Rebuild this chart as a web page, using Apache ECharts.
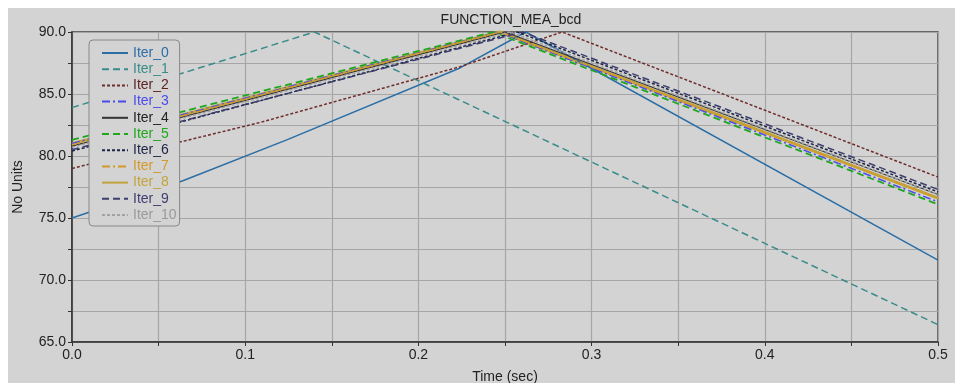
<!DOCTYPE html>
<html>
<head>
<meta charset="utf-8">
<script src="https://cdn.jsdelivr.net/npm/echarts@6/dist/echarts.min.js"></script>
<style>
  html, body { margin: 0; padding: 0; background: #ffffff; overflow: hidden; }
  #chart { position: absolute; left: 8px; top: 8px; width: 947px; height: 375px; background: #d3d3d3; }
</style>
</head>
<body>
<div id="chart"></div>
<script>
// time points (sec) and values, one row per iteration
const names = ['Iter_0', 'Iter_1', 'Iter_2', 'Iter_3', 'Iter_4', 'Iter_5', 'Iter_6', 'Iter_7', 'Iter_8', 'Iter_9', 'Iter_10']
const times = [
  [0, 0.064, 0.124, 0.224, 0.262, 0.5],
  [0, 0.140, 0.5],
  [0, 0.1085, 0.224, 0.283, 0.5],
  [0, 0.246, 0.5],
  [0, 0.250, 0.5],
  [0, 0.243, 0.5],
  [0, 0.257, 0.5],
  [0, 0.247, 0.5],
  [0, 0.247, 0.5],
  [0, 0.260, 0.5],
  [0, 0.253, 0.5]
]
const values = [
  [75.0, 78.0, 81.3, 87.1, 90.0, 71.6],
  [83.9, 90.0, 66.4],
  [79.0, 82.7, 87.2, 90.0, 78.3],
  [81.0, 90.0, 76.3],
  [80.8, 90.0, 76.9],
  [81.3, 90.0, 76.1],
  [80.4, 90.0, 77.1],
  [80.9, 90.0, 76.6],
  [81.0, 90.0, 76.6],
  [80.5, 90.0, 77.3],
  [80.7, 90.0, 76.9]
]
const xTicks = [0.0, 0.1, 0.2, 0.3, 0.4, 0.5]

const colors = ['#2b6ea6', '#3a8c8a', '#6e2c2c', '#4b4bec', '#333333', '#1ea81e', '#1b2444', '#d49a2a', '#c2a43c', '#3e3e6e', '#a2a2a2']
const textColors = ['#2b6ea6', '#3a8c8a', '#5e2424', '#4b4bec', '#222222', '#1ea81e', '#1b2444', '#d49a2a', '#c2a43c', '#3e3e6e', '#9a9a9a']
const dashes = ['solid', [7, 4], [3, 2], [8, 3, 2, 3], 'solid', [7, 4], [3, 2], [8, 3, 2, 3], 'solid', [7, 4], [3, 2]]
const widths = [1.5, 1.5, 1.5, 1.5, 1.2, 1.8, 1.5, 1.5, 3, 1.5, 1.5]

const chart = echarts.init(document.getElementById('chart'))

const series = names.map((n, i) => ({
  name: n,
  type: 'line',
  symbol: 'none',
  z: i === 8 ? 2 : 3,
  lineStyle: { color: colors[i], type: dashes[i], width: widths[i] },
  itemStyle: { color: colors[i] },
  data: times[i].map((t, k) => [t, values[i][k]])
}))

const option = {
  animation: false,
  backgroundColor: '#d3d3d3',
  textStyle: { fontFamily: 'Liberation Sans, Arial, sans-serif' },
  title: {
    text: 'FUNCTION_MEA_bcd',
    left: 498,
    top: 0,
    textAlign: 'center',
    textStyle: { fontSize: 14, fontWeight: 'normal', color: '#222' }
  },
  grid: {
    left: 64,
    right: 17,
    top: 24,
    bottom: 41,
    outerBoundsMode: 'none',
    show: true,
    borderColor: '#444',
    borderWidth: 1.5,
    backgroundColor: 'transparent'
  },
  legend: {
    orient: 'vertical',
    left: 81,
    top: 32,
    padding: [6, 3, 4, 12],
    backgroundColor: '#d3d3d3',
    borderColor: '#888',
    borderWidth: 1,
    borderRadius: 4,
    itemWidth: 26,
    itemHeight: 10,
    itemGap: 2.2,
    itemStyle: { opacity: 0 },
    textStyle: { fontSize: 14 },
    data: names.map((n, i) => ({ name: n, textStyle: { color: textColors[i] } }))
  },
  xAxis: {
    type: 'value',
    min: xTicks[0],
    max: xTicks[xTicks.length - 1],
    interval: 0.1,
    name: 'Time (sec)',
    nameLocation: 'middle',
    nameGap: 28,
    nameTextStyle: { fontSize: 14, color: '#222' },
    axisLine: { lineStyle: { color: '#333', width: 1.5 } },
    axisTick: { show: true, length: 4, lineStyle: { color: '#333' } },
    minorTick: { show: true, splitNumber: 2, length: 4, lineStyle: { color: '#333' } },
    axisLabel: { fontSize: 14, color: '#222', margin: 6, formatter: v => v.toFixed(1) },
    splitLine: { show: true, lineStyle: { color: '#a6a6a6', width: 1.2 } },
    minorSplitLine: { show: true, lineStyle: { color: '#a6a6a6', width: 1.2 } }
  },
  yAxis: {
    type: 'value',
    min: 65,
    max: 90,
    interval: 5,
    name: 'No Units',
    nameLocation: 'middle',
    nameGap: 47,
    nameTextStyle: { fontSize: 14, color: '#222' },
    axisLine: { show: true, lineStyle: { color: '#333', width: 1.5 } },
    axisTick: { show: true, length: 4, lineStyle: { color: '#333' } },
    minorTick: { show: true, splitNumber: 2, length: 4, lineStyle: { color: '#333' } },
    axisLabel: { fontSize: 14, color: '#222', margin: 6, formatter: v => v.toFixed(1) },
    splitLine: { show: true, lineStyle: { color: '#a6a6a6', width: 1.2 } },
    minorSplitLine: { show: true, lineStyle: { color: '#a6a6a6', width: 1.2 } }
  },
  series: series
}

chart && chart.setOption(option)
</script>
</body>
</html>
